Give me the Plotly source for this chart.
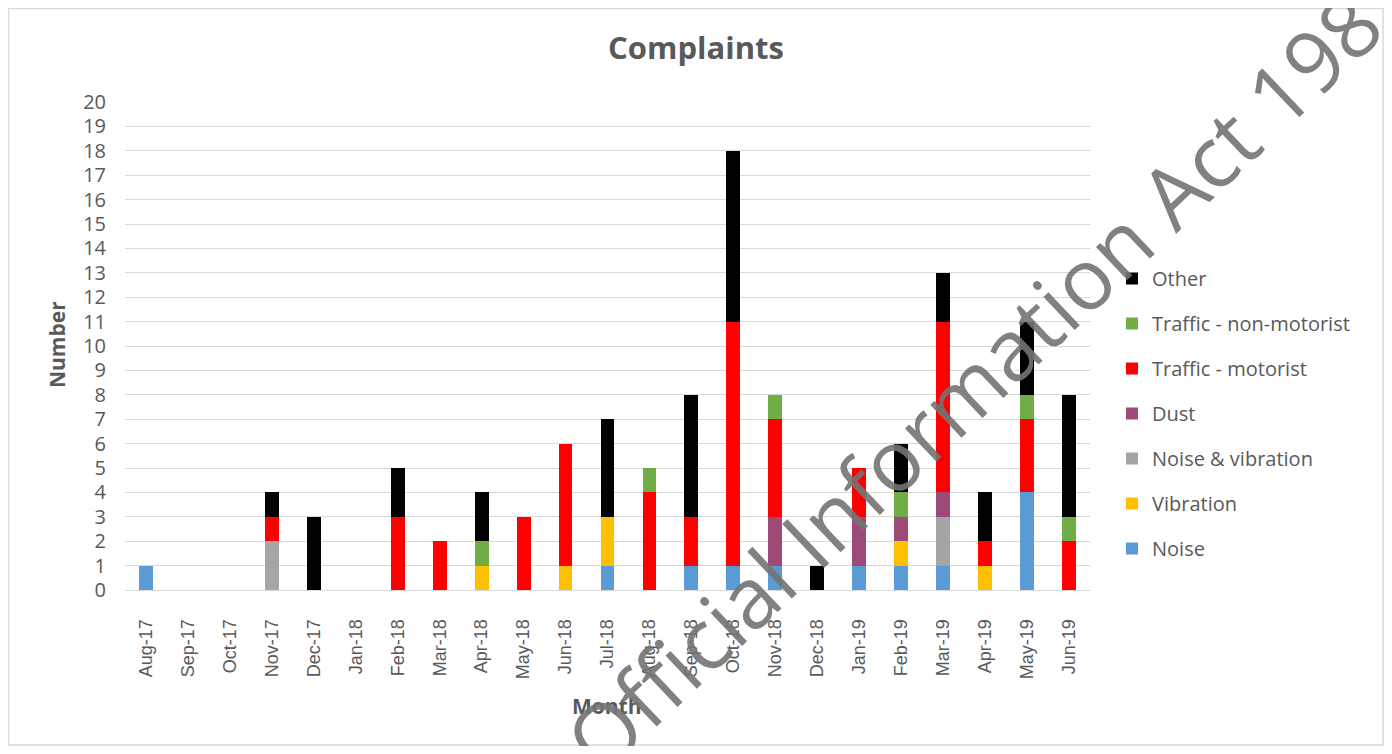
import plotly.graph_objects as go

months = ["Aug-17", "Sep-17", "Oct-17", "Nov-17", "Dec-17", "Jan-18", "Feb-18", "Mar-18",
          "Apr-18", "May-18", "Jun-18", "Jul-18", "Aug-18", "Sep-18", "Oct-18", "Nov-18",
          "Dec-18", "Jan-19", "Feb-19", "Mar-19", "Apr-19", "May-19", "Jun-19"]

noise           = [1, 0, 0, 0, 0, 0, 0, 0, 0, 0, 0, 1, 0, 1, 1, 1, 0, 1, 1, 1, 0, 4, 0]
vibration       = [0, 0, 0, 0, 0, 0, 0, 0, 1, 0, 1, 2, 0, 0, 0, 0, 0, 0, 1, 0, 1, 0, 0]
noise_vibration = [0, 0, 0, 2, 0, 0, 0, 0, 0, 0, 0, 0, 0, 0, 0, 0, 0, 0, 0, 2, 0, 0, 0]
dust            = [0, 0, 0, 0, 0, 0, 0, 0, 0, 0, 0, 0, 0, 0, 0, 2, 0, 2, 1, 1, 0, 0, 0]
motorist        = [0, 0, 0, 1, 0, 0, 3, 2, 0, 3, 5, 0, 4, 2, 10, 4, 0, 2, 0, 7, 1, 3, 2]
non_motorist    = [0, 0, 0, 0, 0, 0, 0, 0, 1, 0, 0, 0, 1, 0, 0, 1, 0, 0, 1, 0, 0, 1, 1]
other           = [0, 0, 0, 1, 3, 0, 2, 0, 2, 0, 0, 4, 0, 5, 7, 0, 1, 0, 2, 2, 2, 3, 5]

series = [
    ("Noise", noise, "#5B9BD5"),
    ("Vibration", vibration, "#FFC000"),
    ("Noise & vibration", noise_vibration, "#A5A5A5"),
    ("Dust", dust, "#9E4A76"),
    ("Traffic - motorist", motorist, "#FF0000"),
    ("Traffic - non-motorist", non_motorist, "#70AD47"),
    ("Other", other, "#000000"),
]

# page body has an 8px margin; work in reference pixel coords and shift
OFF = 8
W, H = 1392 - 2 * OFF, 754 - 2 * OFF
L, R, T, B = 125 - OFF, 1090 - OFF, 102 - OFF, 590 - OFF

fig = go.Figure()
n = len(series)
for i, (name, vals, col) in enumerate(series):
    fig.add_trace(go.Bar(x=months, y=vals, name=name, marker_color=col,
                         marker_line_width=0, legendgroup=name,
                         legendrank=n - i))

def px_x(v):
    return (v - OFF - L) / (R - L)

def px_y(v):
    return (B - (v - OFF)) / (B - T)

grey = "#595959"
fig.update_layout(
    width=W, height=H,
    margin=dict(l=L, r=W - R, t=T, b=H - B, autoexpand=False),
    barmode="stack", bargap=0.67,
    plot_bgcolor="white", paper_bgcolor="white",
    title=dict(text="<b>Complaints</b>", xref="container", x=(696 - OFF) / W,
               xanchor="center", yref="container", y=1 - (48 - OFF) / H,
               yanchor="middle",
               font=dict(family="Open Sans", size=31, color=grey)),
    legend=dict(traceorder="grouped", x=px_x(1112), xanchor="left",
                y=px_y(259), yanchor="top", tracegroupgap=16,
                font=dict(family="Open Sans", size=20, color=grey),
                bgcolor="rgba(0,0,0,0)"),
    xaxis=dict(type="category", tickangle=-90, showgrid=False, showline=True,
               linecolor="#D9D9D9", linewidth=1, ticks="", ticklabelstandoff=21,
               tickfont=dict(family="Liberation Sans", size=18, color=grey)),
    yaxis=dict(range=[0, 20], dtick=1, showgrid=True, gridcolor="#D9D9D9",
               gridwidth=1, zeroline=False, showline=False, ticks="",
               ticklabelstandoff=18,
               tickfont=dict(family="Open Sans", size=20, color=grey)),
    showlegend=True,
)

fig.add_annotation(text="<b>Number</b>", xref="paper", yref="paper",
                   x=px_x(57), y=px_y(345), textangle=-90, showarrow=False,
                   xanchor="center", yanchor="middle",
                   font=dict(family="Open Sans", size=21, color=grey))
fig.add_annotation(text="<b>Month</b>", xref="paper", yref="paper",
                   x=px_x(607), y=px_y(706), showarrow=False,
                   xanchor="center", yanchor="middle",
                   font=dict(family="Open Sans", size=21, color=grey))

fig.add_shape(type="rect", xref="paper", yref="paper",
              x0=px_x(OFF + 0.5), x1=px_x(1376 + OFF - 1), y0=px_y(738 + OFF - 1), y1=px_y(OFF + 0.5),
              line=dict(color="#D9D9D9", width=1.5), layer="below")

fig.add_annotation(text="Official Information Act 1982", xref="paper", yref="paper",
                   x=px_x(990), y=px_y(365), showarrow=False, textangle=-43.5,
                   xanchor="center", yanchor="middle",
                   font=dict(family="Open Sans", size=85, color="rgba(115,115,115,0.9)"))

fig.write_html("out.html")
